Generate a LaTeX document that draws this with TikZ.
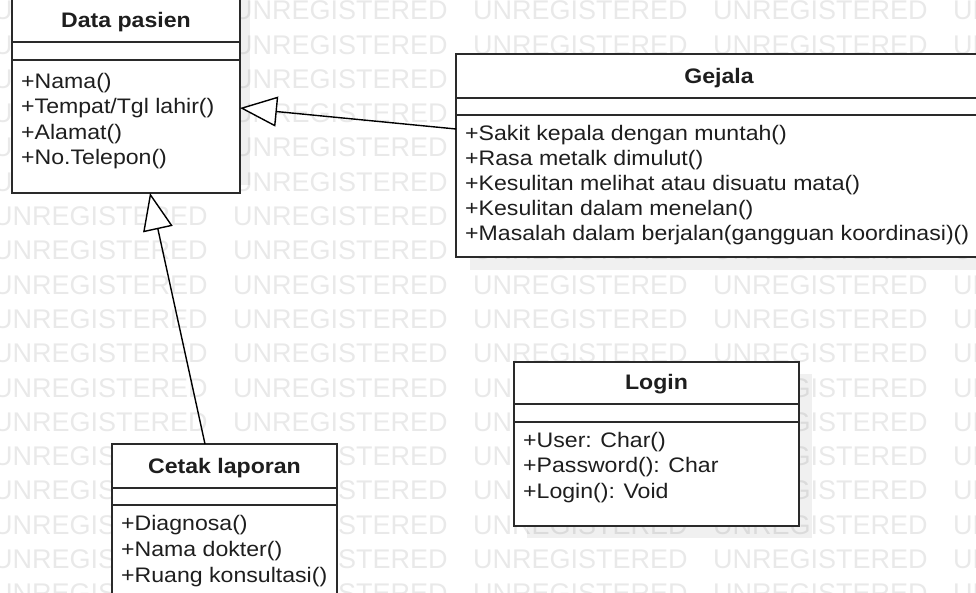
\documentclass[tikz,border=0pt]{standalone}
\usepackage{fontspec}
\setmainfont{Liberation Sans}[FakeStretch=1.1]
\newfontfamily\wmfont{Liberation Sans}
\usetikzlibrary{arrows.meta,calc}
\definecolor{ink}{HTML}{1E1E1E}
\definecolor{edge}{HTML}{2A2A2A}
\tikzset{
 umlbox/.style={draw=edge, line width=1.5pt, fill=white, inner sep=0pt, outer sep=0pt, anchor=north west, rectangle},
 sep/.style={draw=edge, line width=1.5pt},
 shadowbox/.style={fill=black, fill opacity=0.06, draw=none},
 ttl/.style={font=\fontsize{21}{24}\selectfont\bfseries, text=ink, anchor=base, inner sep=0pt},
 attr/.style={font=\fontsize{21}{24}\selectfont, text=ink, anchor=base west, inner sep=0pt},
 wm/.style={font=\wmfont\fontsize{27}{30}\selectfont, text=black, text opacity=0.085, anchor=west, inner sep=0pt},
 gen/.style={draw=black, line width=1.4pt, -{Triangle[length=37pt, width=30pt, fill=white]}},
}
\begin{document}
\begin{tikzpicture}[x=1pt,y=-1pt]
\useasboundingbox (0,0) rectangle (976,593);
\clip (0,0) rectangle (976,593);
\fill[white] (0,0) rectangle (976,593);
% shadows
\fill[shadowbox] (22,-11) rectangle (250,185);
\fill[shadowbox] (470,67) rectangle (996,270);
\fill[shadowbox] (527,374) rectangle (812,538);
% watermark
\foreach \r in {0,...,17}{
  \foreach \c in {0,...,4}{
    \node[wm] (wm-\r-\c) at ({-7+240*\c},{10.5+34.3*\r}) {UNREGISTERED};
  }
}
% Data pasien
\node[umlbox, minimum width=228pt, minimum height=196pt] (dp) at (12,-3) {};
\draw[sep] (12,42) -- (240,42);
\draw[sep] (12,60) -- (240,60);
\node[ttl] (dpT) at (126,27.5) {Data pasien};
\node[attr] (dp1) at (21,88.5) {+Nama()};
\node[attr] (dp2) at (21,114) {+Tempat/Tgl lahir()};
\node[attr] (dp3) at (21,139.5) {+Alamat()};
\node[attr] (dp4) at (21,165) {+No.Telepon()};
% Gejala
\node[umlbox, minimum width=526pt, minimum height=203pt] (gej) at (456,54) {};
\draw[sep] (456,98) -- (982,98);
\draw[sep] (456,115) -- (982,115);
\node[ttl] (gejT) at (719,84) {Gejala};
\node[attr] (g1) at (465,141) {+Sakit kepala dengan muntah()};
\node[attr] (g2) at (465,166) {+Rasa metalk dimulut()};
\node[attr] (g3) at (465,191) {+Kesulitan melihat atau disuatu mata()};
\node[attr] (g4) at (465,216) {+Kesulitan dalam menelan()};
\node[attr] (g5) at (465,241) {+Masalah dalam berjalan(gangguan koordinasi)()};
% Login
\node[umlbox, minimum width=285pt, minimum height=164pt] (lg) at (514,362) {};
\draw[sep] (514,404) -- (799,404);
\draw[sep] (514,422) -- (799,422);
\node[ttl] (lgT) at (656.5,389) {Login};
\node[attr] (l1) at (523,447) {+User: Char()};
\node[attr] (l2) at (523,472.5) {+Password(): Char};
\node[attr] (l3) at (523,498) {+Login(): Void};
% Cetak laporan
\node[umlbox, minimum width=225pt, minimum height=166pt] (cl) at (112,444) {};
\draw[sep] (112,488) -- (337,488);
\draw[sep] (112,505) -- (337,505);
\node[ttl] (clT) at (224.5,473) {Cetak laporan};
\node[attr] (c1) at (121,530) {+Diagnosa()};
\node[attr] (c2) at (121,556) {+Nama dokter()};
\node[attr] (c3) at (121,582) {+Ruang konsultasi()};
% connectors
\coordinate (gA) at ($(gej.north west)+(0,75)$);
\coordinate (dpA) at ($(dp.north east)+(0,111)$);
\coordinate (cA) at ($(cl.north west)+(93,0)$);
\coordinate (dpB) at ($(dp.south west)+(138,0)$);
\draw[gen] (gA) -- (dpA);
\draw[gen] (cA) -- (dpB);
\end{tikzpicture}
\end{document}
